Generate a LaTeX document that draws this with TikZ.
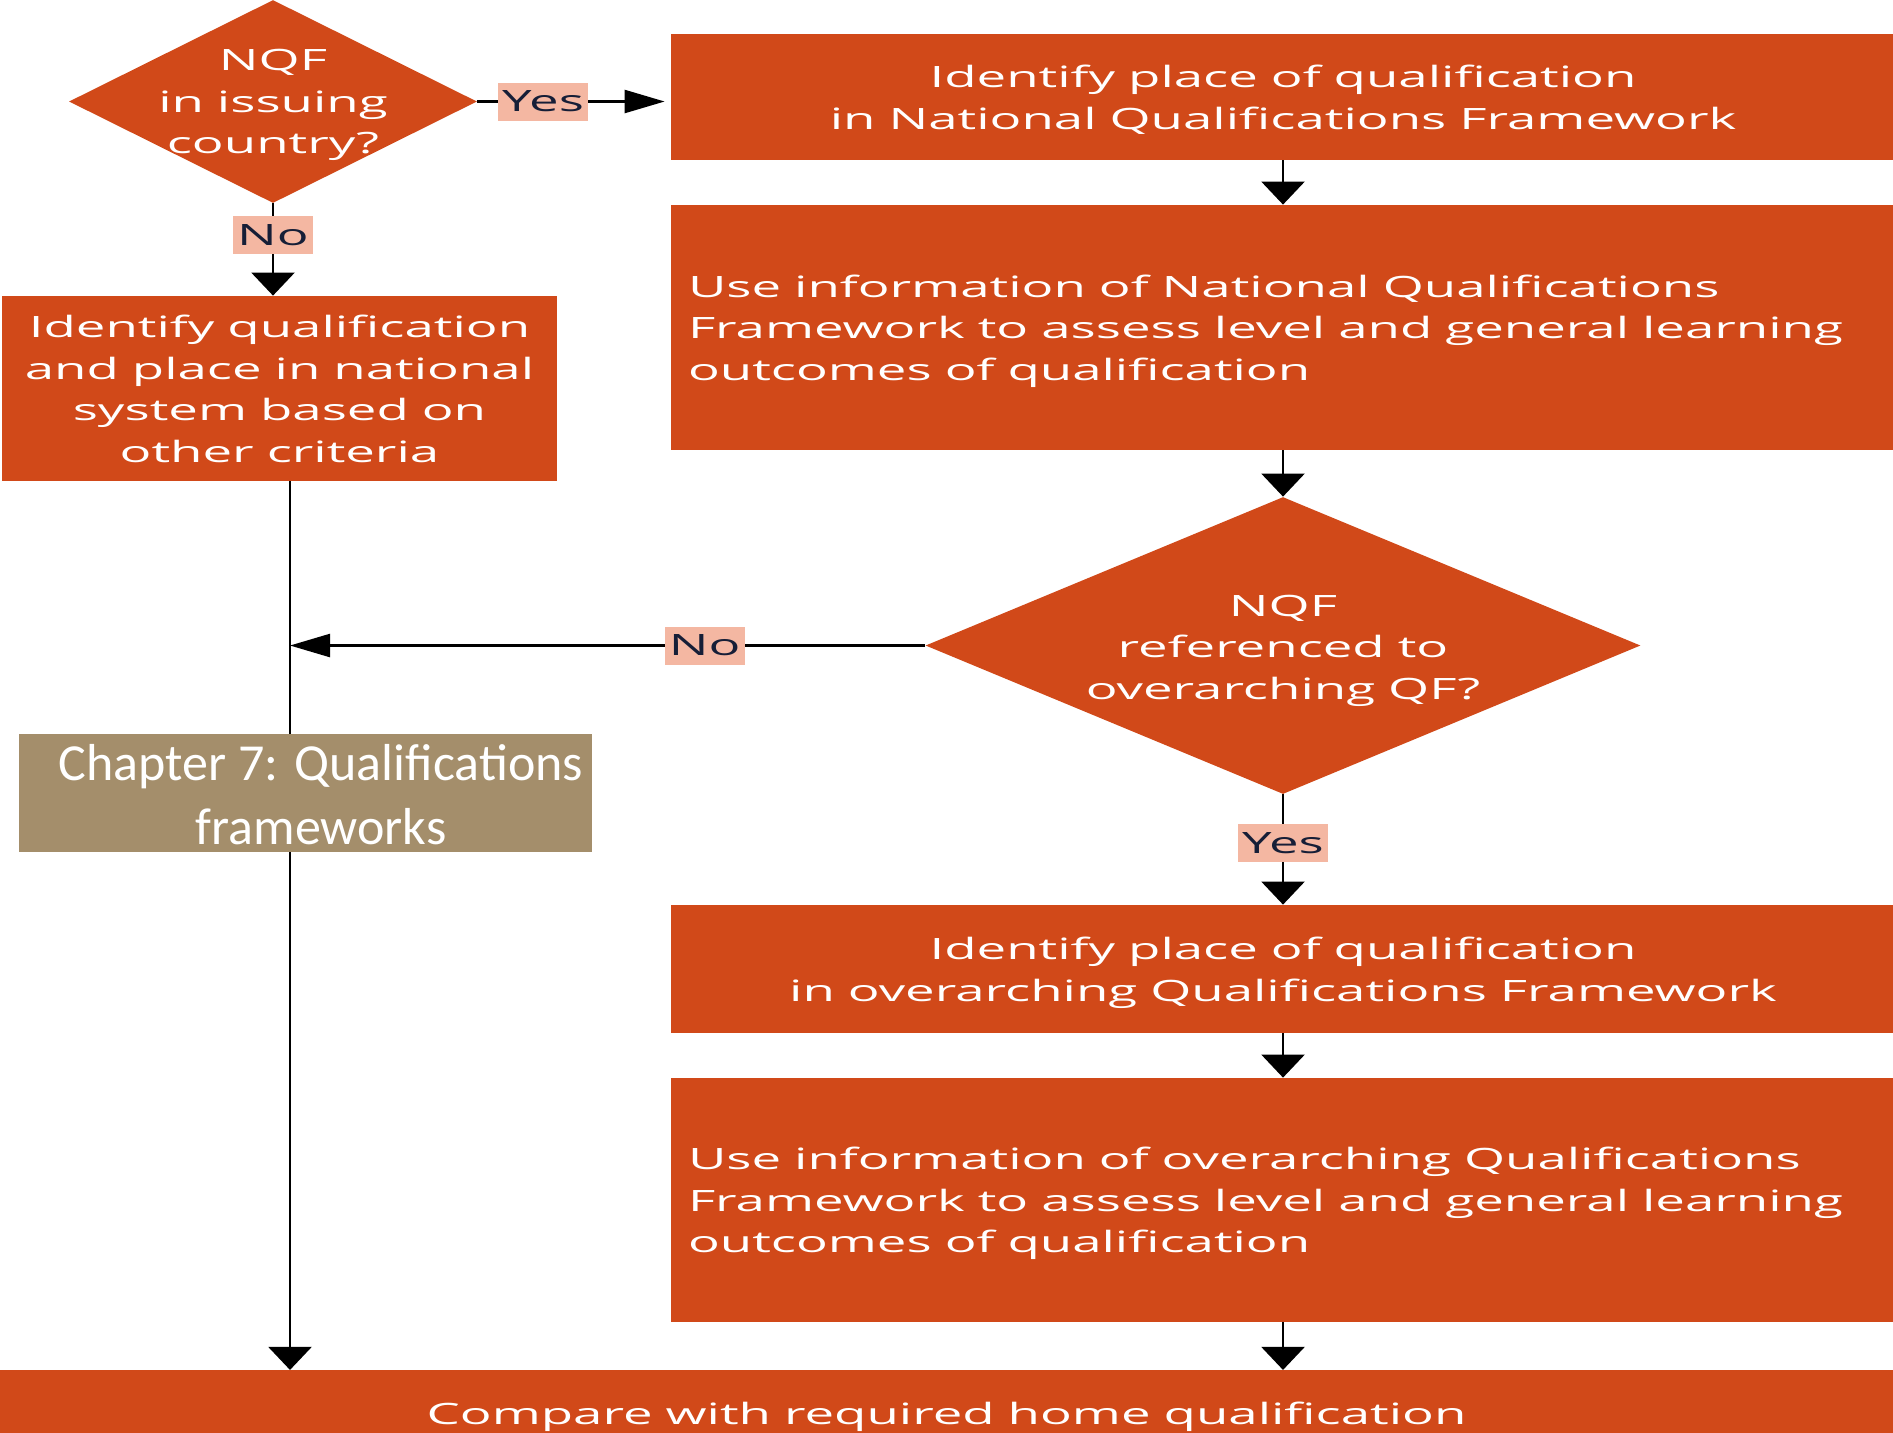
\documentclass[tikz,border=0pt]{standalone}
\usepackage{fontspec}
\usetikzlibrary{shapes.geometric,arrows.meta}
\newfontfamily\widefont[FakeStretch=1.795]{Open Sans}
\newfontfamily\calfont{Carlito}
\newcommand\tst{\rule[-6.24pt]{0pt}{23.8pt}}
\newcommand\wfont{\widefont\fontsize{14.7}{20.8}\selectfont\spaceskip=6.5pt\relax}
\definecolor{orng}{RGB}{209,73,25}
\definecolor{salm}{RGB}{244,183,162}
\definecolor{tanbox}{RGB}{164,142,107}
\definecolor{navy}{RGB}{22,30,55}
\begin{document}
\begin{tikzpicture}[x=0.5pt,y=-0.5pt,
  box/.style={rectangle, fill=orng, inner sep=0pt, minimum width=612pt, text=white, font=\wfont},
  lbox/.style={box, align=left, text width=595pt, inner xsep=8.5pt, execute at begin node={\spaceskip=6.5pt\relax}},
  cbox/.style={box, align=center},
  dia/.style={diamond, fill=orng, inner sep=0pt},
  wtext/.style={text=white, align=center, font=\wfont, inner sep=0pt},
  lab/.style={fill=salm, text=navy, font=\widefont\fontsize{14.7}{17}\selectfont, inner xsep=2pt, inner ysep=0pt, minimum height=19pt},
  conn/.style={line width=1.2pt, black},
  varr/.style={conn, -{Triangle[length=11.5pt,width=21.5pt]}},
  harr/.style={conn, -{Triangle[length=20pt,width=11.5pt]}},
]
\useasboundingbox (0,0) rectangle (1893,1432);
\fill[white] (0,0) rectangle (1893,1432);
\clip (0,0) rectangle (1893,1432);

% right column
\node[cbox, minimum height=63pt] (b1) at (1283,97) {\tst Identify place of qualification\\\strut in National Qualifications Framework};
\node[lbox, minimum height=122.5pt] (b2) at (1283,327.5) {\tst Use information of National Qualifications\\\strut Framework to assess level and general learning\\\strut outcomes of qualification};
\node[dia, minimum width=357.5pt, minimum height=148.5pt] (d2) at (1283,645.5) {};
\node[wtext] (d2t) at (1283,649.5) {\strut NQF\\\strut referenced to\\\strut overarching QF?};
\node[cbox, minimum height=64pt] (b3) at (1283,969) {\tst Identify place of qualification\\\strut in overarching Qualifications Framework};
\node[lbox, minimum height=122pt] (b4) at (1283,1200) {\tst Use information of overarching Qualifications\\\strut Framework to assess level and general learning\\\strut outcomes of qualification};

% bottom box
\node[cbox, minimum width=946.5pt, minimum height=45.7pt] (b5) at (946.5,1416) {\strut Compare with required home qualification};

% left column
\node[dia, minimum width=204pt, minimum height=101.5pt] (d1) at (273,101.5) {};
\node[wtext] (d1t) at (273,104) {\strut NQF\\\strut in issuing\\\strut country?};
\node[cbox, minimum width=277.5pt, minimum height=92.5pt] (bl) at (279.5,388.5) {\tst Identify qualification\\\strut and place in national\\\strut system based on\\\strut other criteria};
\coordinate (lx) at (290,481);

% connectors
\draw[harr, shorten >=3pt] (d1.east) -- (d1.east -| b1.west) node[lab, pos=0.34] (ly1) {Yes};
\draw[varr] (d1.south) -- (d1.south |- bl.north) node[lab, pos=0.34] (ln1) {No};
\draw[varr] (b1.south) -- (b2.north);
\draw[varr] (b2.south) -- (d2.north);
\draw[varr] (d2.south) -- (b3.north) node[lab, pos=0.44] (ly2) {Yes};
\draw[varr] (b3.south) -- (b4.north);
\draw[varr] (b4.south) -- (b4.south |- b5.north);
\draw[varr] (lx) -- (lx |- b5.north);
\draw[harr] (d2.west) -- (d2.west -| lx) node[lab, pos=0.347] (ln2) {No};

% chapter label
\node[fill=tanbox, minimum width=286.5pt, minimum height=59pt, inner sep=0pt] (ch) at (305.5,793) {};
\node[text=white, font=\calfont\fontsize{26}{32}\selectfont, align=center, inner sep=0pt] (cht) at (321,795) {Chapter 7: Qualifications\\frameworks};
\end{tikzpicture}
\end{document}
